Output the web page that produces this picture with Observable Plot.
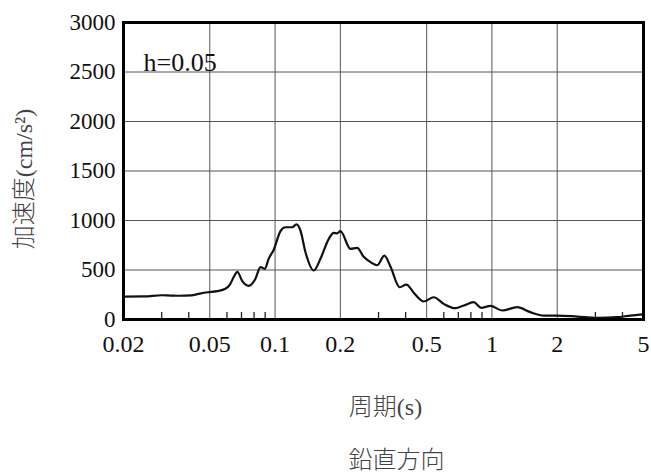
<!DOCTYPE html>
<html>
<head>
<meta charset="utf-8">
<script src="https://cdn.jsdelivr.net/npm/d3@7"></script>
<script src="https://cdn.jsdelivr.net/npm/@observablehq/plot@0.6"></script>
<style>
  html, body { margin: 0; padding: 0; background: #fff; }
</style>
</head>
<body>
<div id="chart"></div>
<script>
// Period (s)
const periods = [0.02, 0.025, 0.030, 0.033, 0.036, 0.041, 0.045, 0.049, 0.054, 0.059,
  0.062, 0.0645, 0.067, 0.0705, 0.0756, 0.0812, 0.0856, 0.0896, 0.0935, 0.0986,
  0.1059, 0.1116, 0.1199, 0.1255, 0.1309, 0.1381, 0.1508, 0.1619, 0.1769, 0.1865,
  0.1930, 0.2002, 0.2226, 0.2390, 0.2556, 0.2754, 0.2842, 0.2955, 0.3194, 0.3404,
  0.3758, 0.4034, 0.4360, 0.4848, 0.5393, 0.5996, 0.6788, 0.7413, 0.8242, 0.8916,
  0.9840, 1.114, 1.307, 1.504, 1.733, 1.998, 2.47, 3.055, 3.778, 4.35, 5.0];
// Acceleration (cm/s^2)
const accel = [232, 234, 245, 242, 240, 244, 262, 275, 286, 310,
  355, 430, 482, 390, 340, 411, 530, 512, 615, 705,
  892, 932, 932, 960, 899, 680, 495, 613, 815, 876,
  870, 892, 714, 724, 636, 579, 562, 548, 646, 535,
  326, 353, 270, 182, 225, 158, 114, 141, 175, 118,
  138, 91, 124, 74, 40, 40, 30, 17, 23, 40, 52];

const xMajorTicks = [0.02, 0.05, 0.1, 0.2, 0.5, 1, 2, 5];
const xMinorTicks = [0.03, 0.04, 0.06, 0.07, 0.08, 0.09, 0.3, 0.4, 0.6, 0.7, 0.8, 0.9, 3, 4];
const yTicks = [0, 500, 1000, 1500, 2000, 2500, 3000];

const dampingLabel = "h=0.05";
const yLabel = "加速度(cm/s²)";
const xLabel = "周期(s)";
const caption = "鉛直方向";

const data = periods.map((p, i) => ({period: p, value: accel[i]}));

const serif = "Liberation Serif, Times New Roman, DejaVu Serif, Noto Sans CJK JP, serif";
const cjk = "Noto Sans CJK JP, sans-serif";

const chart = Plot.plot({
  width: 651,
  height: 474,
  marginLeft: 123,
  marginRight: 8,
  marginTop: 22,
  marginBottom: 155,
  style: {background: "#fff", fontFamily: serif},
  x: {type: "log", domain: [0.02, 5]},
  y: {domain: [0, 3000]},
  marks: [
    Plot.gridX(xMajorTicks, {stroke: "#555", strokeOpacity: 1, strokeWidth: 1}),
    Plot.gridY(yTicks, {stroke: "#555", strokeOpacity: 1, strokeWidth: 1}),
    Plot.axisX(xMinorTicks, {tickSize: -7, tickFormat: () => "", label: null, stroke: "#222", strokeWidth: 1.3}),
    Plot.text(xMajorTicks, {x: d => d, frameAnchor: "bottom", lineAnchor: "top", textAnchor: "middle", dy: 15, fontSize: 24, letterSpacing: 0.5, fontFamily: serif, fill: "#111", text: d => String(d)}),
    Plot.axisY(yTicks, {tickSize: 0, tickPadding: 8, fontSize: 23, letterSpacing: 0.5, fontFamily: serif, label: null, fill: "#111", tickFormat: d => String(d)}),
    Plot.line(data, {x: "period", y: "value", stroke: "#111", strokeWidth: 2.2, curve: "monotone-x"}),
    Plot.frame({stroke: "#000", strokeWidth: 3}),
    Plot.text([dampingLabel], {frameAnchor: "top-left", dx: 20, dy: 40, textAnchor: "start", lineAnchor: "middle", fontSize: 26, letterSpacing: 3, fontFamily: serif, fill: "#111"}),
    Plot.text([yLabel], {frameAnchor: "left", rotate: -90, textAnchor: "middle", lineAnchor: "middle", dx: -99, dy: 8, fontSize: 24, letterSpacing: 1, fill: "#444", fontFamily: serif, fontWeight: 300}),
    Plot.text([xLabel], {frameAnchor: "bottom", textAnchor: "middle", lineAnchor: "middle", dx: 2, dy: 88, fontSize: 24, fill: "#444", fontFamily: serif, fontWeight: 300}),
    Plot.text([caption], {frameAnchor: "bottom", textAnchor: "middle", lineAnchor: "middle", dx: 13, dy: 141, fontSize: 24, fill: "#444", fontFamily: cjk, fontWeight: 300})
  ]
});
document.getElementById("chart").appendChild(chart);
</script>
</body>
</html>
